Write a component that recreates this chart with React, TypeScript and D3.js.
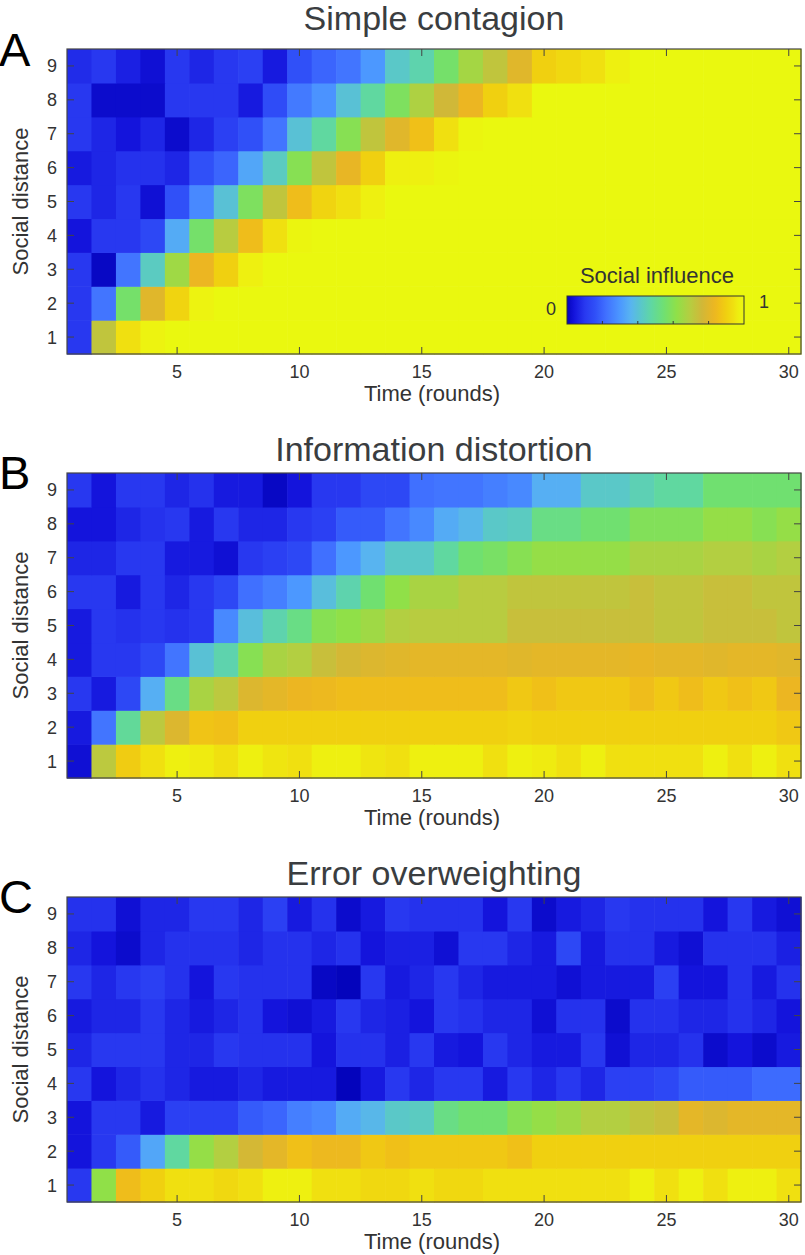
import React from "react";
import * as d3 from "d3";

// ---------- DATA ----------
const rounds = [1,2,3,4,5,6,7,8,9,10,11,12,13,14,15,16,17,18,19,20,21,22,23,24,25,26,27,28,29,30];
const distances = [1,2,3,4,5,6,7,8,9];
const xTickValues = [5,10,15,20,25,30];
const yTickValues = [1,2,3,4,5,6,7,8,9];
const colorbarTickValues = [0.2,0.4,0.6,0.8];
const panelTitles = ["Simple contagion","Information distortion","Error overweighting"];
const panelLetters = ["A","B","C"];

// rows: index 0 = social distance 1 ... index 8 = social distance 9
const simpleContagion = [
  [0.10,0.72,0.94,0.98,1,1,1,1,1,1,1,1,1,1,1,1,1,1,1,1,1,1,1,1,1,1,1,1,1,1],
  [0.10,0.23,0.56,0.80,0.91,0.98,1,1,1,1,1,1,1,1,1,1,1,1,1,1,1,1,1,1,1,1,1,1,1,1],
  [0.10,0.01,0.23,0.43,0.65,0.83,0.90,0.97,1,1,1,1,1,1,1,1,1,1,1,1,1,1,1,1,1,1,1,1,1,1],
  [0.04,0.10,0.10,0.14,0.34,0.56,0.70,0.85,0.94,0.99,1,1,1,1,1,1,1,1,1,1,1,1,1,1,1,1,1,1,1,1],
  [0.10,0.07,0.10,0.03,0.16,0.27,0.40,0.58,0.72,0.85,0.91,0.94,0.97,1,1,1,1,1,1,1,1,1,1,1,1,1,1,1,1,1],
  [0.05,0.07,0.09,0.09,0.07,0.16,0.20,0.33,0.43,0.60,0.72,0.82,0.90,0.97,0.97,0.99,1,1,1,1,1,1,1,1,1,1,1,1,1,1],
  [0.10,0.07,0.04,0.07,0.02,0.07,0.12,0.16,0.23,0.40,0.48,0.60,0.72,0.80,0.86,0.94,0.99,1,1,1,1,1,1,1,1,1,1,1,1,1],
  [0.10,0.02,0.02,0.02,0.10,0.10,0.10,0.05,0.15,0.24,0.29,0.40,0.48,0.58,0.68,0.76,0.83,0.90,0.94,1,1,1,1,1,1,1,1,1,1,1],
  [0.08,0.10,0.06,0.03,0.10,0.07,0.10,0.12,0.05,0.16,0.20,0.23,0.30,0.42,0.46,0.56,0.66,0.72,0.80,0.90,0.92,0.94,0.97,1,1,1,1,1,1,1],
];

const informationDistortion = [
  [0.03,0.71,0.89,0.94,0.97,0.96,0.94,0.97,0.95,0.94,0.97,0.97,0.95,0.94,0.97,0.97,0.97,0.94,0.97,0.96,0.94,0.97,0.94,0.94,0.94,0.94,0.97,0.94,0.97,0.94],
  [0.05,0.23,0.49,0.71,0.79,0.87,0.86,0.90,0.90,0.90,0.90,0.90,0.90,0.90,0.90,0.90,0.90,0.90,0.91,0.90,0.90,0.90,0.90,0.90,0.90,0.90,0.90,0.90,0.90,0.88],
  [0.10,0.05,0.14,0.35,0.52,0.67,0.71,0.79,0.81,0.83,0.84,0.85,0.85,0.85,0.85,0.85,0.85,0.85,0.88,0.86,0.88,0.88,0.88,0.85,0.88,0.85,0.88,0.86,0.88,0.83],
  [0.05,0.10,0.10,0.14,0.23,0.40,0.46,0.60,0.67,0.69,0.74,0.77,0.79,0.80,0.81,0.81,0.81,0.81,0.80,0.81,0.81,0.81,0.81,0.82,0.81,0.81,0.80,0.81,0.81,0.80],
  [0.05,0.10,0.09,0.10,0.09,0.10,0.27,0.39,0.46,0.52,0.60,0.62,0.65,0.69,0.70,0.70,0.70,0.70,0.74,0.74,0.74,0.74,0.74,0.74,0.72,0.72,0.74,0.74,0.74,0.72],
  [0.10,0.10,0.05,0.10,0.07,0.10,0.14,0.22,0.25,0.30,0.39,0.46,0.55,0.62,0.67,0.67,0.70,0.70,0.72,0.72,0.72,0.72,0.72,0.74,0.72,0.72,0.74,0.74,0.72,0.72],
  [0.07,0.07,0.10,0.10,0.05,0.05,0.03,0.10,0.12,0.14,0.22,0.30,0.36,0.42,0.42,0.48,0.55,0.57,0.60,0.63,0.63,0.63,0.63,0.67,0.67,0.67,0.69,0.69,0.67,0.69],
  [0.04,0.04,0.07,0.09,0.10,0.05,0.10,0.07,0.07,0.10,0.12,0.18,0.18,0.23,0.27,0.34,0.37,0.42,0.43,0.52,0.52,0.55,0.55,0.59,0.59,0.59,0.63,0.63,0.60,0.63],
  [0.10,0.04,0.10,0.10,0.07,0.09,0.05,0.05,0.01,0.04,0.10,0.10,0.14,0.14,0.22,0.23,0.23,0.25,0.27,0.35,0.35,0.42,0.42,0.45,0.48,0.48,0.55,0.55,0.55,0.55],
];

const errorOverweighting = [
  [0.10,0.62,0.85,0.90,0.94,0.94,0.92,0.94,0.97,0.97,0.94,0.94,0.92,0.92,0.94,0.92,0.92,0.94,0.94,0.94,0.94,0.94,0.94,0.97,0.94,0.97,0.94,0.97,0.97,0.94],
  [0.04,0.10,0.18,0.33,0.48,0.63,0.69,0.77,0.81,0.86,0.84,0.84,0.88,0.86,0.88,0.88,0.88,0.88,0.86,0.90,0.90,0.90,0.90,0.90,0.90,0.90,0.90,0.90,0.90,0.90],
  [0.04,0.10,0.10,0.05,0.12,0.12,0.12,0.18,0.20,0.25,0.27,0.34,0.37,0.42,0.43,0.52,0.55,0.55,0.60,0.63,0.65,0.69,0.69,0.72,0.74,0.81,0.79,0.81,0.81,0.81],
  [0.10,0.04,0.07,0.09,0.07,0.05,0.05,0.07,0.05,0.05,0.05,0.00,0.05,0.10,0.07,0.10,0.10,0.05,0.10,0.07,0.10,0.07,0.12,0.12,0.14,0.18,0.18,0.18,0.21,0.21],
  [0.07,0.10,0.10,0.10,0.07,0.07,0.10,0.09,0.09,0.09,0.04,0.09,0.09,0.06,0.10,0.05,0.04,0.10,0.07,0.05,0.05,0.10,0.03,0.07,0.07,0.09,0.02,0.04,0.02,0.05],
  [0.05,0.07,0.07,0.10,0.07,0.05,0.07,0.09,0.04,0.03,0.05,0.10,0.07,0.06,0.04,0.10,0.09,0.07,0.07,0.03,0.09,0.09,0.02,0.09,0.09,0.07,0.07,0.09,0.07,0.04],
  [0.10,0.07,0.10,0.12,0.09,0.04,0.10,0.09,0.09,0.09,0.01,0.00,0.10,0.05,0.07,0.10,0.07,0.05,0.05,0.05,0.03,0.05,0.05,0.05,0.12,0.04,0.04,0.09,0.05,0.09],
  [0.07,0.04,0.02,0.07,0.09,0.09,0.09,0.07,0.09,0.09,0.07,0.09,0.04,0.06,0.06,0.03,0.10,0.10,0.07,0.05,0.14,0.05,0.09,0.09,0.05,0.03,0.09,0.09,0.09,0.06],
  [0.09,0.09,0.03,0.07,0.07,0.10,0.10,0.07,0.12,0.05,0.09,0.02,0.05,0.10,0.09,0.09,0.09,0.04,0.10,0.02,0.05,0.07,0.10,0.09,0.09,0.09,0.04,0.10,0.05,0.03],
];

// colormap (parula-like, as seen in the picture)
const cmapStops = [0, 0.04, 0.10, 0.16, 0.22, 0.30, 0.36, 0.42, 0.48, 0.55, 0.62, 0.70, 0.76, 0.83, 0.86, 0.90, 0.94, 0.97, 1];
const cmapColors = ["#0404bc","#1414dc","#2838f0","#3050f8","#4070ff","#4c98ff","#58b4f0","#5ac8c8","#60d8a0","#70e070","#90e048","#b8cc40","#d0b838","#ecb622","#f0c018","#f0d010","#f0e010","#eef010","#eaf80f"];

const datasets = [simpleContagion, informationDistortion, errorOverweighting];

// ---------- LAYOUT ----------
const W = 805, H = 1255;
const plotLeft = 67, plotRight = 801;
const panelTops = [49, 473, 897];
const panelHeight = 305;
const titleBaselines = [30, 461, 885];
const letterBaselines = [66, 489, 913];
const FONT = "'Liberation Sans', Arial, Helvetica, sans-serif";

const color = d3.scaleLinear<string>().domain(cmapStops).range(cmapColors).interpolate(d3.interpolateRgb).clamp(true);

function Panel({ idx }: { idx: number }) {
  const top = panelTops[idx];
  const bottom = top + panelHeight;
  const x = d3.scaleLinear().domain([0.5, 30.5]).range([plotLeft, plotRight]);
  const y = d3.scaleLinear().domain([0.5, 9.5]).range([bottom, top]);
  const data = datasets[idx];
  const tickLen = 7;
  const axisColor = "#444";
  const cx = (plotLeft + plotRight) / 2;
  return (
    <g>
      <text x={-1} y={letterBaselines[idx]} fontFamily={FONT} fontSize={47} fill="#000">{panelLetters[idx]}</text>
      <text x={cx} y={titleBaselines[idx]} textAnchor="middle" fontFamily={FONT} fontSize={34} fill="#3a3d40">{panelTitles[idx]}</text>
      {distances.map((d, ri) =>
        rounds.map((t, ci) => {
          const v = data[ri][ci];
          const x0 = x(t - 0.5), x1 = x(t + 0.5);
          const y0 = y(d + 0.5), y1 = y(d - 0.5);
          return (
            <rect key={`${ri}-${ci}`} x={x0} y={y0} width={x1 - x0 + 0.6} height={y1 - y0 + 0.6} fill={color(v)} />
          );
        })
      )}
      {/* box */}
      <rect x={plotLeft} y={top} width={plotRight - plotLeft} height={panelHeight} fill="none" stroke={axisColor} strokeWidth={1.2} />
      {/* x ticks */}
      {xTickValues.map((t) => (
        <g key={`xt${t}`}>
          <line x1={x(t)} x2={x(t)} y1={bottom} y2={bottom - tickLen} stroke={axisColor} strokeWidth={1} />
          <line x1={x(t)} x2={x(t)} y1={top} y2={top + tickLen} stroke={axisColor} strokeWidth={1} />
          <text x={x(t)} y={bottom + 24} textAnchor="middle" fontFamily={FONT} fontSize={18} fill="#333">{t}</text>
        </g>
      ))}
      {/* y ticks */}
      {yTickValues.map((d) => (
        <g key={`yt${d}`}>
          <line x1={plotLeft} x2={plotLeft + tickLen} y1={y(d)} y2={y(d)} stroke={axisColor} strokeWidth={1} />
          <line x1={plotRight} x2={plotRight - tickLen} y1={y(d)} y2={y(d)} stroke={axisColor} strokeWidth={1} />
          <text x={57} y={y(d) + 6.5} textAnchor="end" fontFamily={FONT} fontSize={18} fill="#333">{d}</text>
        </g>
      ))}
      <text x={cx - 2} y={bottom + 47} textAnchor="middle" fontFamily={FONT} fontSize={22} fill="#333">Time (rounds)</text>
      <text transform={`translate(28, ${(top + bottom) / 2}) rotate(-90)`} textAnchor="middle" fontFamily={FONT} fontSize={22} fill="#333">Social distance</text>
    </g>
  );
}

function Colorbar() {
  const cbX0 = 567, cbX1 = 744, cbY0 = 296, cbY1 = 324;
  const s = d3.scaleLinear().domain([0, 1]).range([cbX0, cbX1]);
  const gradStops = d3.range(0, 1.0001, 0.02);
  return (
    <g>
      <defs>
        <linearGradient id="cbgrad" x1="0" x2="1" y1="0" y2="0">
          {gradStops.map((v) => (
            <stop key={v} offset={`${v * 100}%`} stopColor={color(v)} />
          ))}
        </linearGradient>
      </defs>
      <rect x={cbX0} y={cbY0} width={cbX1 - cbX0} height={cbY1 - cbY0} fill="url(#cbgrad)" stroke="#333" strokeWidth={1} />
      {colorbarTickValues.map((v) => (
        <line key={v} x1={s(v)} x2={s(v)} y1={cbY1} y2={cbY1 - 3} stroke="#333" strokeWidth={1} />
      ))}
      <text x={657} y={283} textAnchor="middle" fontFamily={FONT} fontSize={22} fill="#333">Social influence</text>
      <text x={556} y={315} textAnchor="end" fontFamily={FONT} fontSize={18} fill="#333">0</text>
      <text x={759} y={308} textAnchor="start" fontFamily={FONT} fontSize={18} fill="#333">1</text>
    </g>
  );
}

export default function App() {
  return (
    <svg width={W} height={H} style={{ position: "absolute", left: 0, top: 0, background: "#fff" }}>
      <rect x={0} y={0} width={W} height={H} fill="#fff" />
      {[0, 1, 2].map((i) => (
        <Panel key={i} idx={i} />
      ))}
      <Colorbar />
    </svg>
  );
}
